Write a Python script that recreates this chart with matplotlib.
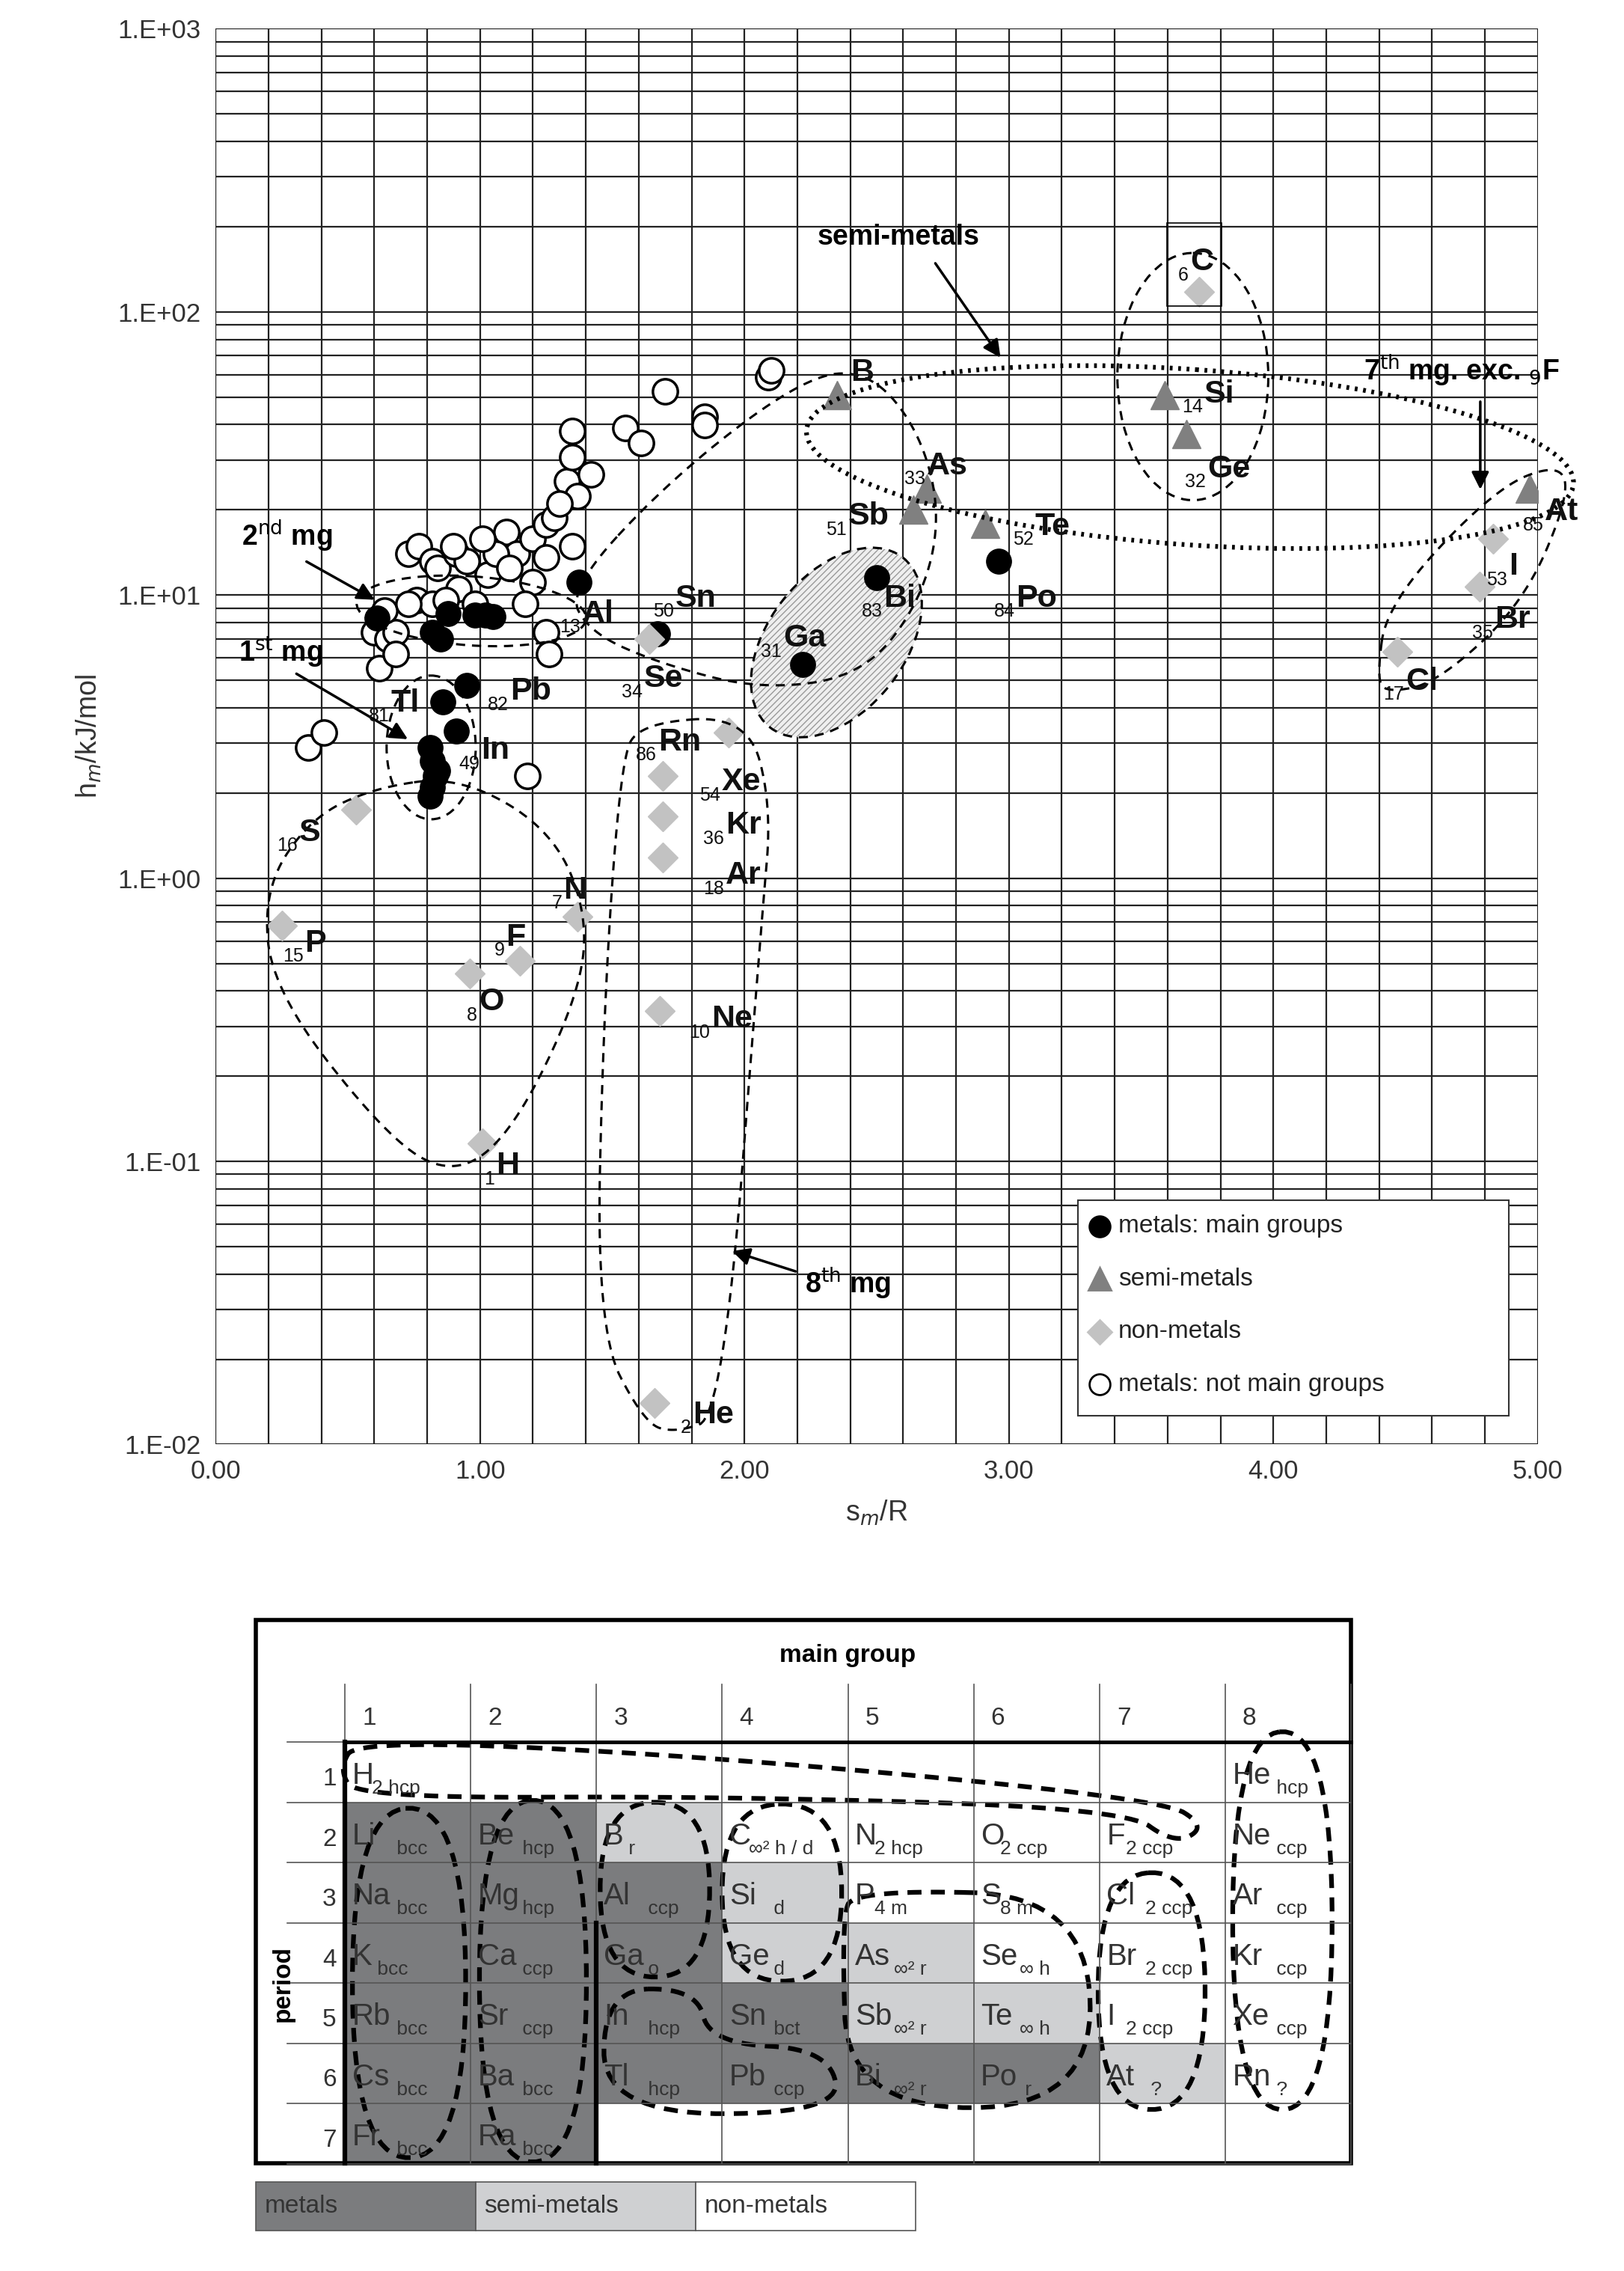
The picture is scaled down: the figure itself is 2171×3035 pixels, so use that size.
import numpy as np
import matplotlib
matplotlib.use("Agg")
import matplotlib.pyplot as plt
from matplotlib.patches import Ellipse, Polygon, Rectangle, FancyArrowPatch
from matplotlib.ticker import FixedLocator, FixedFormatter, NullFormatter

plt.rcParams.update({"font.family": ["Liberation Sans", "DejaVu Sans"], "hatch.linewidth": 1.0})

# ---- scatter data (s_m/R, h_m in kJ/mol) ----
semi_x = [2.35, 2.69, 2.64, 2.91, 3.59, 3.67, 4.97]
semi_y = [50.8, 23.8, 20.0, 17.8, 50.8, 37.0, 23.8]

non_x = [3.72, 4.83, 4.78, 4.47, 1.94, 1.64, 1.69, 1.69, 1.69, 1.37, 1.15, 0.96, 0.25, 0.53, 1.68, 1.01, 1.66]
non_y = [118, 15.8, 10.7, 6.3, 3.26, 7.0, 2.3, 1.65, 1.18, 0.73, 0.51, 0.46, 0.68, 1.75, 0.34, 0.116, 0.014]

main_x = [1.375, 1.67, 2.22, 2.50, 2.96, 0.95, 0.86, 0.91, 0.81, 0.82, 0.83, 0.82, 0.81, 0.84,
          0.61, 0.82, 0.88, 0.98, 1.02, 1.05, 0.85]
main_y = [11.1, 7.3, 5.7, 11.5, 13.2, 4.8, 4.2, 3.3, 2.9, 2.6, 2.3, 2.1, 1.95, 2.4,
          8.3, 7.4, 8.6, 8.5, 8.5, 8.4, 7.0]

trans_x = [0.35, 0.41, 0.60, 0.62, 0.65, 0.68, 0.73, 0.77, 0.82, 0.84, 0.91, 0.95, 0.92, 0.98,
           1.03, 1.10, 1.14, 1.20, 1.25, 1.28, 1.33, 1.35, 1.35, 1.37, 1.42, 1.30, 1.25, 1.35,
           1.20, 1.17, 1.25, 1.26, 1.18, 1.55, 1.61, 1.70, 1.85, 1.85, 2.09, 2.10, 0.64, 0.76,
           0.82, 0.87, 0.73, 0.68, 0.90, 1.06, 1.01, 1.11]
trans_y = [2.9, 3.26, 7.4, 5.5, 7.0, 7.4, 14.0, 14.9, 13.2, 12.5, 14.0, 13.2, 10.5, 9.3,
           11.8, 16.7, 14.0, 15.8, 17.7, 18.8, 25.2, 30.7, 37.9, 22.4, 26.7, 21.1, 13.6, 14.9,
           11.1, 9.3, 7.4, 6.2, 2.3, 38.8, 34.5, 52.5, 42.7, 39.8, 59.0, 62.0, 8.8, 9.6,
           9.3, 9.6, 9.3, 6.2, 14.9, 14.0, 15.8, 12.5]

y_ticks = [1e-2, 1e-1, 1e0, 1e1, 1e2, 1e3]
y_tick_labels = ["1.E-02", "1.E-01", "1.E+00", "1.E+01", "1.E+02", "1.E+03"]
x_ticks = [0, 1, 2, 3, 4, 5]
x_tick_labels = ["0.00", "1.00", "2.00", "3.00", "4.00", "5.00"]

# point labels: symbol-left x, baseline y (page px), atomic number, symbol
labels = [
    (592, 265, "", "B"), (645, 330, "33", "As"), (590, 365, "51", "Sb"), (720, 372, "52", "Te"),
    (828, 188, "6", "C"), (838, 280, "14", "Si"), (840, 332, "32", "Ge"), (1075, 362, "85", "At"),
    (1050, 400, "53", "I"), (1040, 437, "35", "Br"), (978, 480, "17", "Cl"), (615, 422, "83", "Bi"),
    (707, 422, "84", "Po"), (545, 450, "31", "Ga"), (470, 422, "50", "Sn"), (448, 478, "34", "Se"),
    (405, 433, "13", "Al"), (355, 487, "82", "Pb"), (272, 495, "81", "Tl"), (335, 528, "49", "In"),
    (458, 522, "86", "Rn"), (502, 550, "54", "Xe"), (505, 580, "36", "Kr"), (505, 615, "18", "Ar"),
    (392, 625, "7", "N"), (352, 658, "9", "F"), (333, 703, "8", "O"), (212, 662, "15", "P"),
    (208, 585, "16", "S"), (495, 715, "10", "Ne"), (345, 817, "1", "H"), (482, 990, "2", "He"),
]

# periodic table: (period, group, symbol, suffix, class)
cells = [
    (1, 1, "H", "2 hcp", "n"), (1, 8, "He", " hcp", "n"),
    (2, 1, "Li", " bcc", "m"), (2, 2, "Be", " hcp", "m"), (2, 3, "B", " r", "s"), (2, 4, "C", "∞² h / d", "n"),
    (2, 5, "N", "2 hcp", "n"), (2, 6, "O", "2 ccp", "n"), (2, 7, "F", "2 ccp", "n"), (2, 8, "Ne", " ccp", "n"),
    (3, 1, "Na", " bcc", "m"), (3, 2, "Mg", " hcp", "m"), (3, 3, "Al", " ccp", "m"), (3, 4, "Si", " d", "s"),
    (3, 5, "P", "4 m", "n"), (3, 6, "S", "8 m", "n"), (3, 7, "Cl", "2 ccp", "n"), (3, 8, "Ar", " ccp", "n"),
    (4, 1, "K", " bcc", "m"), (4, 2, "Ca", " ccp", "m"), (4, 3, "Ga", " o", "m"), (4, 4, "Ge", " d", "s"),
    (4, 5, "As", "∞² r", "s"), (4, 6, "Se", "∞ h", "n"), (4, 7, "Br", "2 ccp", "n"), (4, 8, "Kr", " ccp", "n"),
    (5, 1, "Rb", " bcc", "m"), (5, 2, "Sr", " ccp", "m"), (5, 3, "In", " hcp", "m"), (5, 4, "Sn", " bct", "m"),
    (5, 5, "Sb", "∞² r", "s"), (5, 6, "Te", "∞ h", "s"), (5, 7, "I", "2 ccp", "n"), (5, 8, "Xe", " ccp", "n"),
    (6, 1, "Cs", " bcc", "m"), (6, 2, "Ba", " bcc", "m"), (6, 3, "Tl", " hcp", "m"), (6, 4, "Pb", " ccp", "m"),
    (6, 5, "Bi", "∞² r", "m"), (6, 6, "Po", " r", "m"), (6, 7, "At", " ?", "s"), (6, 8, "Rn", " ?", "n"),
    (7, 1, "Fr", " bcc", "m"), (7, 2, "Ra", " bcc", "m"),
]
fills = {"m": "#7b7c7e", "s": "#cfd0d2", "n": "white"}

W, H = 1130, 1580
fig = plt.figure(figsize=(21.71, 30.35), dpi=100)

# ---- main chart ----
ax = fig.add_axes([150 / W, 1 - 1005 / H, 920 / W, 985 / H])
ax.set_yscale("log")
ax.set_xlim(0, 5)
ax.set_ylim(1e-2, 1e3)
minor = [m * 10.0 ** e for e in range(-2, 3) for m in range(2, 10)]
ax.yaxis.set_minor_locator(FixedLocator(minor))
ax.yaxis.set_minor_formatter(NullFormatter())
ax.yaxis.set_major_locator(FixedLocator(y_ticks))
ax.yaxis.set_major_formatter(FixedFormatter(y_tick_labels))
ax.set_xticks(x_ticks)
ax.set_xticklabels(x_tick_labels)
ax.set_xticks(np.arange(0, 5.01, 0.2), minor=True)
ax.grid(True, which="both", color="#222222", linewidth=1.6)
ax.tick_params(labelsize=25, length=0, which="both", pad=14, labelcolor="#333333")
for s in ax.spines.values():
    s.set_visible(False)
ax.set_xlabel("s$_m$/R", fontsize=27, labelpad=14, color="#333333")
ax.set_ylabel("h$_m$/kJ/mol", fontsize=27, labelpad=14, color="#333333")

# ---- overlay in page pixel coordinates ----
ov = fig.add_axes([0, 0, 1, 1], zorder=5)
ov.set_xlim(0, W)
ov.set_ylim(H, 0)
ov.axis("off")
ov.patch.set_alpha(0)

# hatched Bi/Ga region, placed in page coordinates but drawn behind the markers
ax.add_patch(Ellipse((582, 447), 95, 150, angle=38, fc="#efefef", ec="#9a9a9a",
                     hatch="////", lw=0, zorder=2, transform=ov.transData))

ax.plot(trans_x, trans_y, "o", ms=24, mfc="white", mec="black", mew=2.5, zorder=3)
ax.plot(main_x, main_y, "o", ms=24, mfc="black", mec="black", zorder=4)
ax.plot(semi_x, semi_y, "^", ms=27, mfc="#808080", mec="#808080", zorder=4)
ax.plot(non_x, non_y, "D", ms=20, mfc="#c2c2c2", mec="#c2c2c2", zorder=4)


def chaikin(pts, n=4):
    p = np.asarray(pts, float)
    for _ in range(n):
        q = np.roll(p, -1, axis=0)
        a = 0.75 * p + 0.25 * q
        b = 0.25 * p + 0.75 * q
        p = np.empty((2 * len(p), 2))
        p[0::2] = a
        p[1::2] = b
    return p


def loop(pts, ls=(0, (4, 3)), lw=2.2):
    ov.add_patch(Polygon(chaikin(pts), closed=True, fill=False, ec="black", lw=lw, ls=ls))


for px, py, num, sym in labels:
    ov.text(px, py, sym, fontsize=31, fontweight="bold", ha="left", va="baseline", color="#111111")
    if num:
        ov.text(px - 1, py + 7, num, fontsize=18, ha="right", va="baseline", color="#111111")

# enclosures
loop([(395, 410), (470, 330), (560, 262), (605, 258), (640, 300), (655, 360), (640, 420),
      (600, 470), (530, 480), (460, 462), (410, 440)])
ov.add_patch(Ellipse((828, 318), 535, 122, angle=4, fill=False, ec="black", lw=4.5, ls=(0, (0.6, 1.2))))
ov.add_patch(Ellipse((830, 262), 105, 172, fill=False, ec="black", lw=2.2, ls=(0, (4, 3))))
ov.add_patch(Rectangle((812, 155), 38, 58, fill=False, ec="black", lw=1.2))
loop([(958, 472), (965, 420), (1040, 340), (1085, 322), (1092, 345), (1060, 420), (1000, 475), (965, 482)])
ov.add_patch(Ellipse((582, 447), 95, 150, angle=38, fill=False, ec="black", lw=2.2, ls=(0, (4, 3))))
loop([(445, 503), (520, 498), (537, 560), (530, 640), (503, 985), (470, 997), (448, 990),
      (415, 925), (420, 700), (432, 530)])
loop([(260, 548), (320, 540), (385, 578), (410, 640), (400, 700), (355, 790), (315, 818),
      (270, 792), (190, 690), (183, 620), (215, 570)])
ov.add_patch(Ellipse((300, 520), 62, 100, fill=False, ec="black", lw=2.2, ls=(0, (4, 3))))
ov.add_patch(Ellipse((328, 425), 160, 48, angle=4, fill=False, ec="black", lw=2.2, ls=(0, (4, 3))))


def arrow(a, b):
    ov.add_patch(FancyArrowPatch(a, b, arrowstyle="-|>", mutation_scale=35, lw=2.5, color="black"))


ov.text(625, 170, "semi-metals", fontsize=27, fontweight="bold", ha="center", va="baseline")
arrow((650, 182), (697, 250))
ov.text(200, 380, r"2$^{\mathrm{nd}}$ mg", fontsize=27, fontweight="bold", ha="center", va="baseline")
arrow((212, 390), (262, 418))
ov.text(195, 460, r"1$^{\mathrm{st}}$ mg", fontsize=27, fontweight="bold", ha="center", va="baseline")
arrow((205, 468), (285, 515))
ov.text(1017, 265, r"7$^{\mathrm{th}}$ mg. exc. $_9$F", fontsize=27, fontweight="bold", ha="center", va="baseline")
arrow((1030, 278), (1030, 342))
ov.text(590, 900, r"8$^{\mathrm{th}}$ mg", fontsize=27, fontweight="bold", ha="center", va="baseline")
arrow((555, 885), (508, 870))

# legend
ov.add_patch(Rectangle((750, 835), 300, 150, fc="white", ec="#333333", lw=1.5, zorder=6))
leg = [("o", "black", "black", 20, "metals: main groups"),
       ("^", "#808080", "#808080", 22, "semi-metals"),
       ("D", "#c2c2c2", "#c2c2c2", 16, "non-metals"),
       ("o", "white", "black", 20, "metals: not main groups")]
for i, (mk, fc, ec, ms, txt) in enumerate(leg):
    yy = 853 + i * 36.7
    ov.plot([765], [yy], mk, ms=ms, mfc=fc, mec=ec, mew=2, zorder=7)
    ov.text(778, yy, txt, fontsize=24, va="center", ha="left", zorder=7, color="#222222")

# ---- periodic table ----
X0, CW, Y0, RH = 240, 87.5, 1212, 41.9


def gx(v):
    return X0 + CW * v


def gy(v):
    return Y0 + RH * v


for per, grp, sym, suf, cls in cells:
    x, y = gx(grp - 1), gy(per - 1)
    ov.add_patch(Rectangle((x, y), CW, RH, fc=fills[cls], ec="none"))
    ov.text(x + 5, y + RH * 0.7, sym, fontsize=29, ha="left", va="baseline", color="#333333")
    ov.text(x + 5 + 13.5 * len(sym), y + RH * 0.86, suf, fontsize=19, ha="left", va="baseline",
            color="#333333")
for c in range(9):
    ov.plot([gx(c), gx(c)], [1172, 1505], color="#555555", lw=1.2)
for r in range(8):
    ov.plot([200, 940], [gy(r), gy(r)], color="#555555", lw=1.2)
ov.plot([gx(0), gx(8)], [gy(0), gy(0)], color="black", lw=3.5)
ov.plot([gx(0), gx(0)], [gy(0), 1505], color="black", lw=4.5)
ov.plot([gx(2), gx(2)], [gy(3), 1505], color="black", lw=4.5)
ov.add_patch(Rectangle((178, 1127), 762, 378, fill=False, ec="black", lw=4))
ov.text(590, 1156, "main group", fontsize=24, fontweight="bold", ha="center", va="baseline")
for g in range(8):
    ov.text(gx(g) + 12, 1200, str(g + 1), fontsize=24, ha="left", va="baseline", color="#333333")
for r in range(7):
    ov.text(234, gy(r) + RH * 0.72, str(r + 1), fontsize=24, ha="right", va="baseline", color="#333333")
ov.text(197, 1380, "period", fontsize=24, fontweight="bold", rotation=90, ha="center", va="center")


def tloop(pts, lw=4.5):
    ov.add_patch(Polygon(chaikin([(gx(a), gy(b)) for a, b in pts]), closed=True, fill=False,
                         ec="black", lw=lw, ls=(0, (3, 2))))


def tbox(x0, y0, x1, y1):
    tloop([(x0, y0), (x1, y0), (x1, y1), (x0, y1)])


tloop([(0.1, -0.05), (3.0, 0.25), (6.5, 0.95), (6.85, 1.4), (6.6, 1.7), (6.2, 1.1), (3.0, 0.9),
       (0.1, 0.93), (-0.05, 0.45)])
tbox(0.06, 1.1, 0.96, 6.9)
tbox(1.07, 0.97, 1.92, 6.97)
tbox(2.03, 1.0, 2.9, 3.9)
tbox(3.0, 1.03, 3.95, 3.97)
tloop([(4.05, 2.45), (5.9, 2.55), (5.95, 6.07), (4.0, 6.07), (3.95, 2.95)])
tloop([(2.06, 4.1), (2.8, 4.1), (2.9, 5.0), (3.85, 5.1), (3.95, 6.17), (2.06, 6.17)])
tbox(5.99, 2.17, 6.84, 6.1)
tbox(7.06, -0.17, 7.85, 6.1)

# class legend under the table
for i, (cls, txt) in enumerate([("m", "metals"), ("s", "semi-metals"), ("n", "non-metals")]):
    x = 178 + i * 153
    ov.add_patch(Rectangle((x, 1518), 153, 34, fc=fills[cls], ec="#555555", lw=1.2))
    ov.text(x + 6, 1535, txt, fontsize=24, ha="left", va="center", color="#333333")

fig.savefig("out.png", dpi=100)
